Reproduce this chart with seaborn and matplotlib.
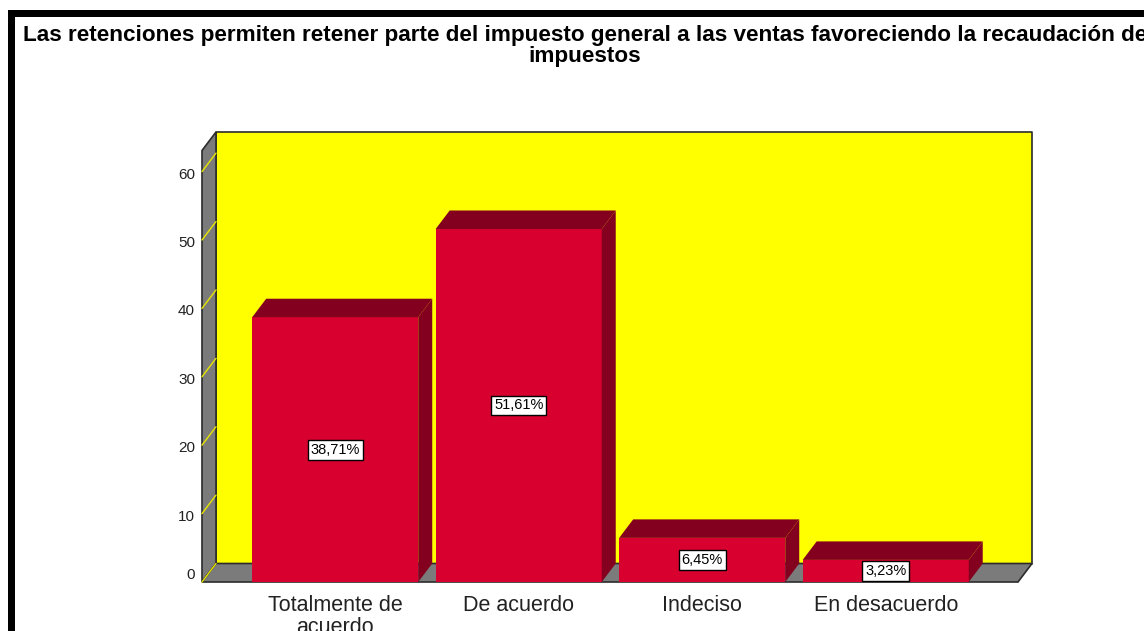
import numpy as np
import pandas as pd
import matplotlib
matplotlib.use("Agg")
import matplotlib.pyplot as plt
from matplotlib.patches import Polygon, Rectangle
import seaborn as sns

categorias = ["Totalmente de\nacuerdo", "De acuerdo", "Indeciso", "En desacuerdo"]
porcentajes = [38.71, 51.61, 6.45, 3.23]
etiquetas = ["38,71%", "51,61%", "6,45%", "3,23%"]
yticks = [0, 10, 20, 30, 40, 50, 60]
titulo = ("Las retenciones permiten retener parte del impuesto general a las ventas "
          "favoreciendo la recaudación de\nimpuestos")

sns.set_style("white")
plt.rcParams["font.family"] = ["Liberation Sans", "DejaVu Sans"]

ROJO = "#d7002f"
ROJO_OSC = "#84001f"
AMARILLO = "#ffff00"
GRIS = "#7b7b7b"
BORDE = "#2b2b2b"
TEXTO = "#222222"

W, H = 1144, 631
fig = plt.figure(figsize=(W / 100, H / 100), dpi=100)
ax = fig.add_axes([202 / W, (H - 582) / H, 830 / W, 450 / H])

df = pd.DataFrame({"cat": categorias, "pct": porcentajes})
sns.barplot(data=df, x="cat", y="pct", color=ROJO, saturation=1, width=0.905,
            ax=ax, zorder=5, linewidth=0, errorbar=None)
bars = list(ax.patches)

# escala: 183.5 px por categoria, 6.84 px por unidad
x0 = (202 - 335.2) / 183.5
x1 = (1032 - 335.2) / 183.5
ytop = 450 / 6.84
dx = 14 / 183.5
dy = 18.5 / 6.84
ax.set_xlim(x0, x1)
ax.set_ylim(0, ytop)
ax.axis("off")

# pared del fondo
ax.add_patch(Rectangle((x0 + dx, dy), x1 - x0 - dx, ytop - dy, facecolor=AMARILLO,
                       edgecolor="none", zorder=0, clip_on=False))
ax.plot([x0 + dx, x0 + dx, x1, x1], [dy, ytop, ytop, dy], color=BORDE, lw=1.2,
        zorder=1, clip_on=False)

# pared lateral y piso
ax.add_patch(Polygon([(x0, 0), (x0, ytop - dy), (x0 + dx, ytop), (x0 + dx, dy)],
                     closed=True, facecolor=GRIS, edgecolor=BORDE, lw=1.2,
                     zorder=2, clip_on=False))
xf = x1 - dx
ax.add_patch(Polygon([(x0, 0), (xf, 0), (xf + dx, dy), (x0 + dx, dy)], closed=True,
                     facecolor=GRIS, edgecolor=BORDE, lw=1.2, zorder=2, clip_on=False))

for v in yticks:
    ax.plot([x0, x0 + dx], [v, v + dy], color="#e6e600", lw=1, zorder=3, clip_on=False)
    ax.annotate(str(v), (x0, v), xytext=(-7, 7 if v == 0 else -3),
                textcoords="offset pixels", ha="right", va="center",
                fontsize=11, color=TEXTO, annotation_clip=False)

# caras superiores y laterales de las barras
for p, lab in zip(bars, etiquetas):
    x, w, h = p.get_x(), p.get_width(), p.get_height()
    ax.add_patch(Polygon([(x, h), (x + w, h), (x + w + dx, h + dy), (x + dx, h + dy)],
                         closed=True, facecolor=ROJO_OSC, edgecolor="none",
                         zorder=6, clip_on=False))
    ax.add_patch(Polygon([(x + w, 0), (x + w + dx, dy), (x + w + dx, h + dy), (x + w, h)],
                         closed=True, facecolor=ROJO_OSC, edgecolor="none",
                         zorder=6, clip_on=False))
    ax.text(x + w / 2, h / 2, lab, ha="center", va="center", fontsize=10.5,
            color="black", zorder=8,
            bbox=dict(boxstyle="square,pad=0.2", facecolor="white",
                      edgecolor="black", lw=1))

for i, c in enumerate(categorias):
    ax.annotate(c, (i, 0), xytext=(0, -13), textcoords="offset pixels",
                ha="center", va="top", fontsize=15.5, color=TEXTO,
                linespacing=1.05, annotation_clip=False)

fig.text(585 / W, 1 - 25 / H, titulo, ha="center", va="top", fontsize=16.2,
         fontweight="bold", linespacing=1.0, color="black")

# marco negro
fig.add_artist(Rectangle((8 / W, 1 - 17 / H), 1, 7 / H, transform=fig.transFigure,
                         facecolor="black", edgecolor="none"))
fig.add_artist(Rectangle((8 / W, 0), 7 / W, 1 - 10 / H, transform=fig.transFigure,
                         facecolor="black", edgecolor="none"))

fig.savefig("out.png", dpi=100)
